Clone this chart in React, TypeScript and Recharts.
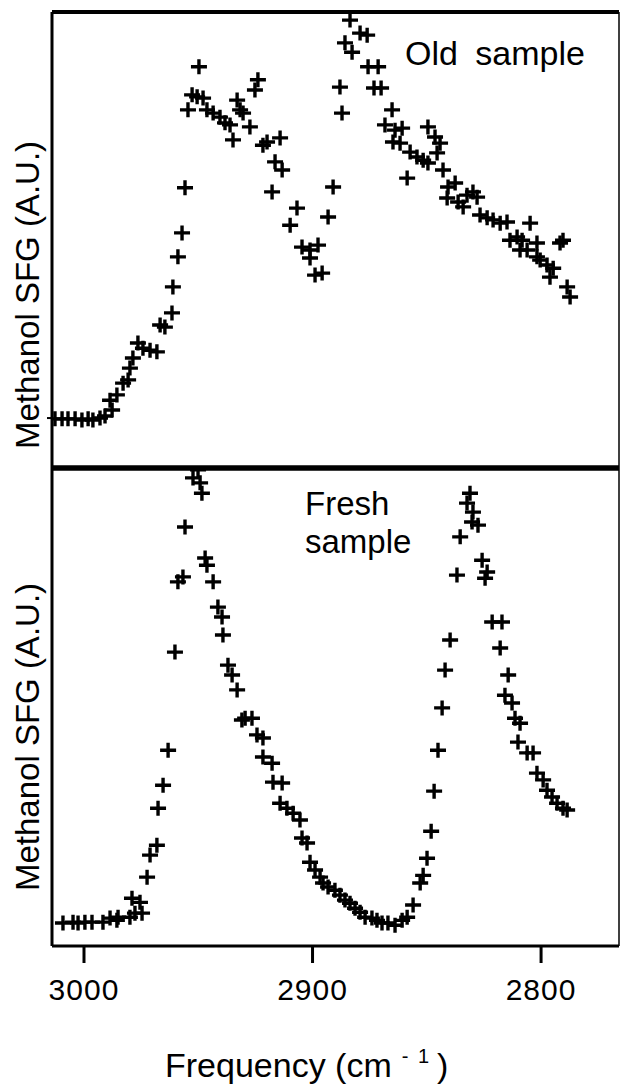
import { ScatterChart, Scatter, XAxis, YAxis } from 'recharts';

const FONT = "'Liberation Sans', Arial, Helvetica, sans-serif";

// frequency axis runs high -> low (cm-1)
const FREQ_DOMAIN: [number, number] = [2765.9, 3014];
const FREQ_TICKS = [3000, 2900, 2800];

// Old sample
const oldFreq = [
  3012.7, 3009.6, 3007.0, 3003.9, 3000.9, 2998.2, 2996.1, 2993.0, 2990.8, 2988.6,
  2987.7, 2985.6, 2982.9, 2980.7, 2979.9, 2978.6, 2976.4, 2974.2, 2971.1, 2968.1,
  2966.7, 2964.6, 2961.5, 2961.1, 2958.9, 2957.1, 2955.8, 2954.5, 2952.7, 2950.5,
  2949.7, 2947.9, 2946.2, 2943.5, 2940.5, 2938.3, 2936.1, 2934.8, 2933.0, 2931.7,
  2930.4, 2927.4, 2925.2, 2923.9, 2921.7, 2919.9, 2917.7, 2916.4, 2914.2, 2913.3,
  2909.8, 2906.8, 2904.6, 2901.1, 2901.1, 2898.9, 2897.6, 2895.8, 2893.2, 2891.0,
  2888.0, 2887.1, 2885.8, 2883.6, 2882.7, 2879.2, 2876.1, 2875.7, 2873.1, 2871.3,
  2870.0, 2868.3, 2865.2, 2864.8, 2863.9, 2861.7, 2860.8, 2858.6, 2857.3, 2854.3,
  2851.6, 2849.5, 2849.5, 2846.4, 2845.5, 2844.2, 2842.9, 2841.1, 2840.7, 2837.6,
  2836.3, 2834.1, 2832.4, 2829.8, 2828.0, 2826.7, 2823.6, 2821.0, 2817.9, 2814.9,
  2813.6, 2810.5, 2809.2, 2808.3, 2806.1, 2804.8, 2801.8, 2801.8, 2800.4, 2797.4,
  2796.1, 2794.7, 2791.7, 2790.4, 2788.6, 2787.3,
];
const oldSignal = [
  -0.2, -0.2, -0.2, -0.2, -0.5, -0.2, -0.5, 0, 0.5, 4.4,
  2.0, 5.7, 8.6, 9.4, 12.3, 14.8, 18.5, 17.2, 16.7, 16.3,
  22.9, 22.4, 25.9, 32.3, 39.7, 45.6, 56.7, 75.9, 79.6, 79.1,
  86.5, 78.8, 75.9, 75.1, 74.1, 72.7, 72.2, 68.5, 78.3, 75.9,
  75.1, 71.7, 80.8, 83.3, 67.2, 68.0, 55.7, 63.1, 69.0, 61.1,
  47.5, 51.7, 42.1, 41.4, 39.4, 35.2, 42.6, 35.7, 49.5, 56.9,
  81.5, 75.1, 92.4, 98.0, 90.1, 94.8, 94.3, 86.5, 81.3, 86.5,
  81.3, 72.2, 75.9, 68.0, 70.9, 67.7, 71.4, 59.1, 65.5, 64.3,
  63.5, 62.8, 71.7, 69.2, 65.3, 67.7, 61.1, 54.2, 56.9, 57.9,
  53.2, 52.0, 54.9, 55.7, 54.4, 50.0, 49.3, 48.8, 48.0, 48.3,
  43.8, 44.6, 41.4, 43.8, 41.4, 48.0, 43.1, 39.7, 38.9, 37.7,
  34.7, 36.9, 43.1, 43.8, 32.3, 29.8,
];

// Fresh sample
const freshFreq = [
  3009.2, 3004.8, 3002.6, 2999.6, 2996.5, 2991.7, 2988.6, 2985.6, 2985.1, 2979.9,
  2979.0, 2977.7, 2975.5, 2974.6, 2972.4, 2971.1, 2968.1, 2967.6, 2965.4, 2963.2,
  2960.2, 2958.9, 2956.7, 2955.8, 2952.3, 2950.1, 2949.2, 2948.4, 2947.0, 2946.2,
  2943.5, 2941.4, 2939.6, 2939.2, 2937.0, 2935.2, 2933.0, 2930.9, 2929.5, 2926.5,
  2924.3, 2921.7, 2921.7, 2917.7, 2917.3, 2913.3, 2914.2, 2911.2, 2908.5, 2905.5,
  2904.6, 2902.4, 2901.1, 2898.9, 2896.7, 2895.4, 2893.2, 2890.2, 2888.0, 2885.8,
  2883.6, 2881.4, 2879.2, 2877.0, 2874.0, 2871.8, 2869.6, 2867.0, 2863.9, 2860.8,
  2858.6, 2856.0, 2852.9, 2851.6, 2849.9, 2848.1, 2846.8, 2845.1, 2843.3, 2842.0,
  2839.8, 2836.8, 2835.4, 2832.4, 2831.1, 2830.2, 2829.8, 2827.6, 2825.8, 2824.5,
  2823.6, 2821.4, 2817.1, 2817.9, 2814.4, 2815.8, 2812.7, 2811.4, 2809.2, 2810.1,
  2806.1, 2803.5, 2801.8, 2799.1, 2797.4, 2795.2, 2793.0, 2790.4, 2788.6,
];
const freshSignal = [
  -0.2, 0, -0.2, 0, 0, 0, 0.9, 0.4, 1.1, 1.1,
  5.3, 2.0, 4.4, 2.0, 10.0, 14.9, 17.1, 25.3, 30.4, 38.2,
  60.0, 75.6, 76.7, 87.8, 98.7, 100.5, 97.6, 95.3, 80.9, 79.3,
  75.6, 70.0, 67.8, 63.8, 57.1, 54.9, 51.6, 44.9, 45.3, 45.3,
  41.6, 40.9, 36.7, 35.3, 31.1, 30.9, 26.4, 25.3, 24.2, 22.7,
  18.7, 17.6, 13.3, 11.6, 10.0, 8.7, 7.8, 7.1, 6.0, 4.9,
  4.2, 3.1, 2.2, 1.1, 0.9, 0.4, -0.2, -0.2, -0.7, 0.4,
  1.1, 3.8, 8.7, 10.4, 14.2, 20.2, 29.1, 38.2, 47.6, 56.0,
  62.7, 77.1, 85.6, 93.1, 95.3, 88.9, 91.1, 88.2, 80.4, 76.4,
  77.8, 66.7, 66.7, 60.9, 54.9, 50.4, 48.7, 45.3, 44.2, 40.0,
  37.6, 37.6, 33.1, 31.6, 29.3, 27.8, 26.4, 25.3, 24.9,
];

const oldData = oldFreq.map((f, i) => ({ f, v: oldSignal[i] }));
const freshData = freshFreq.map((f, i) => ({ f, v: freshSignal[i] }));

const Plus = (props: any) => {
  const { cx, cy } = props;
  if (cx == null || cy == null) return <g />;
  return (
    <path
      d={`M${cx - 8},${cy}H${cx + 8}M${cx},${cy - 7.5}V${cy + 7.5}`}
      stroke="#000"
      strokeWidth={3.4}
      fill="none"
    />
  );
};

const black = (w: number) => ({ stroke: '#000', strokeWidth: w });

const yLabel = (cy: number) => (
  <div
    style={{
      position: 'absolute',
      left: 28 - 200,
      top: cy - 20,
      width: 400,
      height: 40,
      lineHeight: '40px',
      textAlign: 'center',
      transform: 'rotate(-90deg)',
      fontSize: 33,
      fontFamily: FONT,
      color: '#000',
      whiteSpace: 'nowrap',
    }}
  >
    Methanol SFG (A.U.)
  </div>
);

export default function App() {
  return (
    <div style={{ position: 'absolute', left: 0, top: 0, width: 621, height: 1085, background: '#fff', overflow: 'hidden' }}>
      <div style={{ position: 'absolute', left: 0, top: 0 }}>
        <ScatterChart width={621} height={480} margin={{ top: 11, right: 1, bottom: 11, left: 51 }}>
          <XAxis xAxisId="b" type="number" dataKey="f" domain={FREQ_DOMAIN} reversed allowDataOverflow
            orientation="bottom" height={1} tick={false} tickLine={false} axisLine={black(5)} />
          <XAxis xAxisId="t" type="number" dataKey="f" domain={FREQ_DOMAIN} reversed allowDataOverflow
            orientation="top" height={1} tick={false} tickLine={false} axisLine={black(4)} />
          <YAxis yAxisId="l" type="number" dataKey="v" domain={[-12.3, 100]} allowDataOverflow width={1}
            ticks={[0]} tickSize={5} tickFormatter={() => ''} tickLine={black(2)} axisLine={black(3)} />
          <YAxis yAxisId="r" orientation="right" type="number" dataKey="v" domain={[-12.3, 100]} allowDataOverflow
            width={1} tick={false} tickLine={false} axisLine={black(1.5)} />
          <Scatter data={oldData} xAxisId="b" yAxisId="l" shape={Plus} isAnimationActive={false} />
        </ScatterChart>
      </div>

      <div style={{ position: 'absolute', left: 0, top: 456 }}>
        <ScatterChart width={621} height={629} margin={{ top: 11, right: 1, bottom: 79, left: 51 }}>
          <XAxis xAxisId="b" type="number" dataKey="f" domain={FREQ_DOMAIN} reversed allowDataOverflow
            orientation="bottom" height={60} ticks={FREQ_TICKS} tickSize={17} tickMargin={16}
            tick={{ fill: '#000', fontSize: 30, fontFamily: FONT, letterSpacing: 1 }}
            tickLine={black(3)} axisLine={black(3)} />
          <XAxis xAxisId="t" type="number" dataKey="f" domain={FREQ_DOMAIN} reversed allowDataOverflow
            orientation="top" height={1} tick={false} tickLine={false} axisLine={black(5)} />
          <YAxis yAxisId="l" type="number" dataKey="v" domain={[-5.3, 100.9]} allowDataOverflow width={1}
            tick={false} tickLine={false} axisLine={black(3)} />
          <YAxis yAxisId="r" orientation="right" type="number" dataKey="v" domain={[-5.3, 100.9]} allowDataOverflow
            width={1} tick={false} tickLine={false} axisLine={black(1.5)} />
          <Scatter data={freshData} xAxisId="b" yAxisId="l" shape={Plus} isAnimationActive={false} />
        </ScatterChart>
      </div>

      {yLabel(295)}
      {yLabel(737)}

      <div style={{ position: 'absolute', left: 405, top: 36, fontSize: 34, lineHeight: '34px', fontFamily: FONT, wordSpacing: 8, whiteSpace: 'nowrap' }}>
        Old sample
      </div>
      <div style={{ position: 'absolute', left: 305, top: 485, fontSize: 33, lineHeight: '38px', fontFamily: FONT }}>
        Fresh<br />sample
      </div>
      <div style={{ position: 'absolute', left: 165, top: 1048, fontSize: 34, lineHeight: '34px', fontFamily: FONT, whiteSpace: 'nowrap' }}>
        Frequency (cm
        <span style={{ fontSize: 20, position: 'relative', top: -14, marginLeft: 10, wordSpacing: 4 }}>- 1</span>
        <span style={{ marginLeft: 8 }}>)</span>
      </div>
    </div>
  );
}
